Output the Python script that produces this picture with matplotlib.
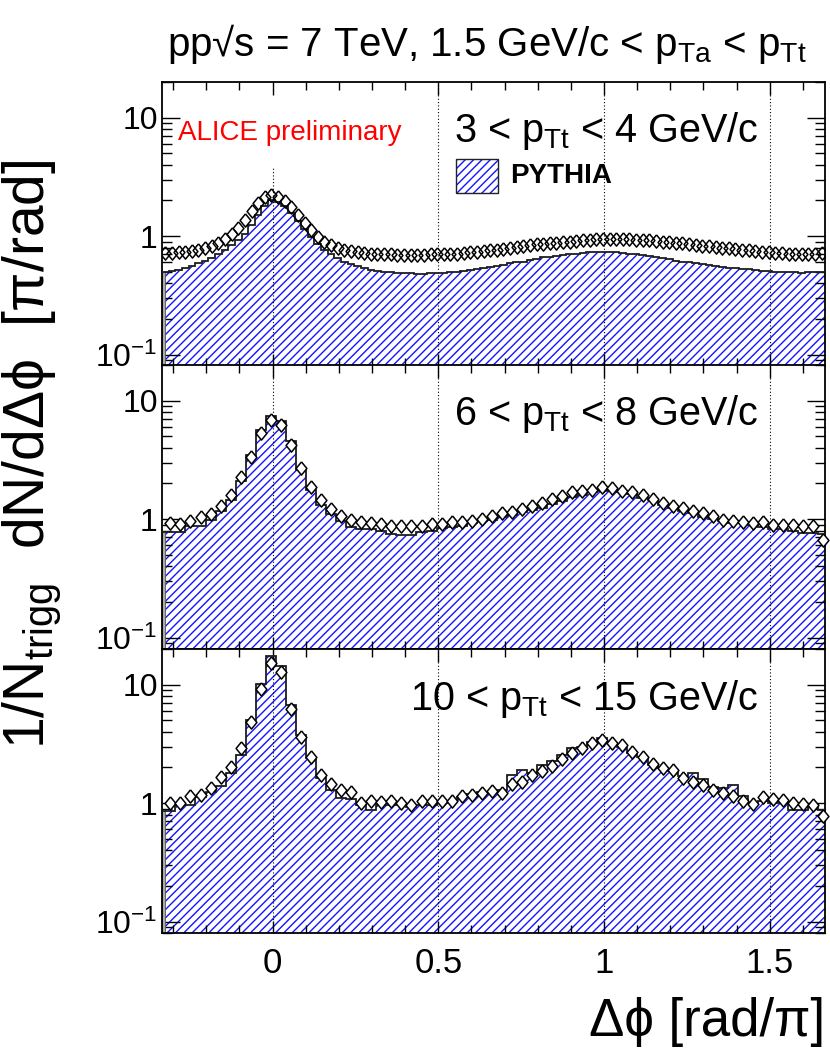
import numpy as np
import matplotlib
matplotlib.use("Agg")
import matplotlib.pyplot as plt
from matplotlib.ticker import MultipleLocator, LogLocator, FixedLocator, FixedFormatter, NullFormatter
from matplotlib.patches import Rectangle

plt.rcParams['font.family'] = ['Liberation Sans', 'DejaVu Sans']
plt.rcParams['mathtext.default'] = 'regular'
plt.rcParams['hatch.linewidth'] = 1.0

# ---- data ----
# panel 1 (3 < pTt < 4): 100 fine bins between -1/3 and 5/3
p1_data = [0.72, 0.72, 0.73, 0.74, 0.75, 0.77, 0.79, 0.83, 0.88,
           0.95, 1.05, 1.18, 1.38, 1.62, 1.90, 2.12, 2.22, 2.15, 1.98, 1.75,
           1.50, 1.28, 1.12, 0.99, 0.90, 0.84, 0.80, 0.77, 0.75, 0.73, 0.72,
           0.71, 0.70, 0.70, 0.70, 0.69, 0.69, 0.69, 0.69, 0.69, 0.70, 0.70, 0.70, 0.71, 0.71, 0.72,
           0.73, 0.74, 0.75, 0.76, 0.77, 0.78, 0.80, 0.81, 0.82, 0.84, 0.85, 0.86, 0.87, 0.88,
           0.89, 0.90, 0.91, 0.92, 0.93, 0.94,
           0.94, 0.95, 0.95, 0.94, 0.94, 0.93, 0.93, 0.92, 0.91, 0.90, 0.89, 0.88, 0.87, 0.86,
           0.84, 0.83, 0.82, 0.81, 0.80, 0.79, 0.78, 0.77, 0.76, 0.75, 0.74, 0.73, 0.72, 0.72,
           0.71, 0.71, 0.71, 0.71, 0.71, 0.72]
p1_pythia = [0.50, 0.51, 0.52, 0.54, 0.56, 0.59, 0.62, 0.65, 0.70, 0.76,
             0.84, 0.93, 1.05, 1.25, 1.50, 1.78, 2.00, 1.95, 1.80, 1.58,
             1.35, 1.15, 0.98, 0.86, 0.77, 0.70, 0.65, 0.61, 0.58, 0.56,
             0.54, 0.52, 0.51, 0.50, 0.50, 0.49, 0.49, 0.49, 0.48, 0.48,
             0.49, 0.49, 0.49, 0.50, 0.50, 0.51, 0.52, 0.53, 0.54, 0.55,
             0.56, 0.57, 0.59, 0.60, 0.61, 0.63, 0.64, 0.66, 0.67, 0.68,
             0.69, 0.70, 0.71, 0.72, 0.73, 0.73, 0.74, 0.73, 0.73, 0.72,
             0.71, 0.70, 0.69, 0.68, 0.67, 0.65, 0.64, 0.62, 0.61, 0.60,
             0.59, 0.58, 0.57, 0.56, 0.55, 0.54, 0.54, 0.53, 0.53, 0.52,
             0.51, 0.51, 0.50, 0.50, 0.50, 0.50, 0.49, 0.50, 0.50, 0.50]

# panels 2 and 3: 66 coarser bins
p2_data = [0.93, 0.91, 0.96, 1.05, 1.11, 1.30, 1.60, 2.26, 3.34, 5.33,
           6.90, 6.25, 4.24, 2.70, 1.88, 1.45, 1.21, 1.07, 0.99, 0.94,
           0.925, 0.905, 0.87, 0.87, 0.87, 0.87, 0.91, 0.91, 0.94, 0.94,
           0.97, 1.00, 1.07, 1.12, 1.14, 1.21, 1.30, 1.38, 1.47, 1.57,
           1.68, 1.71, 1.77, 1.85, 1.83, 1.71, 1.68, 1.60, 1.47, 1.38,
           1.30, 1.24, 1.16, 1.12, 1.07, 0.99, 0.955, 0.94, 0.925, 0.94,
           0.895, 0.895, 0.895, 0.866, 0.866, 0.67]
p2_pythia = [0.785, 0.785, 0.866, 0.866, 0.99, 1.18, 1.45, 2.08, 3.49, 5.68,
             7.46, 6.78, 4.52, 2.61, 1.77, 1.32, 1.11, 0.955, 0.86, 0.83,
             0.82, 0.80, 0.75, 0.74, 0.74, 0.78, 0.80, 0.84, 0.86, 0.88,
             0.93, 0.97, 0.99, 1.05, 1.08, 1.15, 1.20, 1.25, 1.35, 1.42,
             1.55, 1.60, 1.68, 1.72, 1.75, 1.68, 1.62, 1.52, 1.45, 1.32,
             1.24, 1.18, 1.12, 1.05, 1.00, 0.96, 0.93, 0.92, 0.90, 0.86,
             0.82, 0.82, 0.80, 0.77, 0.77, 0.75]
p3_data = [1.00, 1.00, 1.14, 1.18, 1.34, 1.66, 2.03, 2.90, 4.86, 9.2,
           15.2, 12.8, 6.28, 3.59, 2.44, 1.73, 1.46, 1.30, 1.23, 1.00,
           1.05, 1.02, 1.04, 1.00, 0.97, 1.05, 1.04, 1.04, 1.05, 1.14,
           1.18, 1.22, 1.26, 1.22, 1.46, 1.52, 1.73, 1.85, 2.06, 2.35,
           2.63, 2.90, 3.20, 3.41, 3.20, 3.10, 2.72, 2.47, 2.14, 1.97,
           1.91, 1.63, 1.52, 1.43, 1.28, 1.22, 1.14, 1.04, 0.99, 1.13,
           1.08, 1.07, 1.00, 0.99, 0.97, 0.775]
p3_pythia = [0.85, 0.97, 0.97, 1.12, 1.25, 1.40, 1.79, 2.55, 5.0, 10.2,
             17.3, 14.5, 6.7, 3.76, 2.39, 1.63, 1.30, 1.10, 1.08, 0.97,
             0.88, 0.97, 0.97, 0.97, 0.93, 0.97, 0.97, 1.00, 1.05, 1.12,
             1.20, 1.25, 1.22, 1.30, 1.73, 1.91, 1.79, 2.10, 2.25, 2.55,
             2.90, 3.00, 3.30, 3.52, 3.20, 3.00, 2.65, 2.47, 2.10, 1.97,
             1.85, 1.70, 1.79, 1.59, 1.38, 1.34, 1.43, 1.14, 1.00, 1.04,
             1.00, 1.00, 0.88, 0.88, 0.97, 0.88]

panel_labels = ['3 < p$_{Tt}$ < 4 GeV/c', '6 < p$_{Tt}$ < 8 GeV/c', '10 < p$_{Tt}$ < 15 GeV/c']
x_ticks = [0, 0.5, 1, 1.5]
x_ticklabels = ['0', '0.5', '1', '1.5']

# bin edges (in units of pi)
XMIN, XMAX = -1/3, 5/3
edges_fine = np.linspace(XMIN, XMAX, 101)
edges_coarse = np.r_[XMIN, -0.3232 + np.arange(1, 67) / 33.0]
edges_coarse[-1] = min(edges_coarse[-1], XMAX)

panels = [(edges_fine, p1_data, p1_pythia),
          (edges_coarse, p2_data, p2_pythia),
          (edges_coarse, p3_data, p3_pythia)]

HATCH_BLUE = '#1414ff'

fig = plt.figure(figsize=(8.3, 10.55), dpi=100)
L, W = 162 / 830, 663 / 830
boxes = [(1055 - 366) / 1055, (1055 - 649) / 1055, (1055 - 933) / 1055]
H = 284 / 1055

# diamond marker a little taller than wide
diamond = [(0, 1), (0.82, 0), (0, -1), (-0.82, 0), (0, 1)]

axes = []
for i, (edges, data, pyth) in enumerate(panels):
    ax = fig.add_axes([L, boxes[i], W, H])
    axes.append(ax)
    ax.set_yscale('log')
    ax.set_xlim(XMIN, XMAX)
    ax.set_ylim(0.08, 20)

    e = np.asarray(edges)
    centers = 0.5 * (e[:-1] + e[1:])
    if i > 0:
        centers[0] = -0.308
        centers[-1] = 1.662

    # hatched PYTHIA histogram
    ax.stairs(pyth, e, baseline=1e-3, fill=True, facecolor='none',
              edgecolor=HATCH_BLUE, hatch='////', linewidth=0, zorder=1)
    ax.stairs(pyth, e, baseline=None, color='#1e1e1e', linewidth=1.3, zorder=3)
    # grey under-flow stripe at the left edge
    ax.bar(XMIN, pyth[0], width=0.010, bottom=1e-3, align='edge',
           color='#aaaaaa', edgecolor='#555555', linewidth=0.6, zorder=2)

    # dotted guide lines
    for xv in x_ticks:
        top = 0.70 if (i == 0 and xv == 0) else 1.0
        ax.axvline(xv, ymax=top, color='black', linestyle=(0, (1, 2)), linewidth=0.8, zorder=2)

    # data points
    ax.plot(centers, data, linestyle='none', marker=diamond, markersize=9.5,
            markerfacecolor='none' if i == 0 else 'white',
            markeredgecolor='black', markeredgewidth=1.1, zorder=4, clip_on=(i == 0))

    # ticks
    ax.xaxis.set_major_locator(FixedLocator(x_ticks))
    ax.xaxis.set_major_formatter(FixedFormatter(x_ticklabels))
    ax.xaxis.set_minor_locator(MultipleLocator(0.1))
    ax.yaxis.set_major_locator(FixedLocator([0.1, 1, 10]))
    ax.yaxis.set_major_formatter(FixedFormatter(['$10^{-1}$', '1', '10']))
    ax.yaxis.set_minor_locator(LogLocator(base=10, subs=np.arange(2, 10)))
    ax.yaxis.set_minor_formatter(NullFormatter())
    ax.tick_params(which='both', direction='in', top=True, right=True, width=1.0)
    ax.tick_params(axis='y', which='major', length=13, labelsize=23, pad=3)
    ax.tick_params(axis='y', which='minor', length=7)
    ax.tick_params(axis='x', which='major', length=9, labelsize=25, pad=10)
    ax.tick_params(axis='x', which='minor', length=6)
    if i < 2:
        ax.tick_params(axis='x', labelbottom=False)
    for sp in ax.spines.values():
        sp.set_linewidth(1.3)

    ax.text(0.90, 0.79 if i < 2 else 0.785, panel_labels[i], transform=ax.transAxes,
            ha='right', va='baseline', fontsize=28.5)

# ALICE label and legend in the first panel
ax = axes[0]
ax.text(0.024, 0.796, 'ALICE preliminary', color='red', fontsize=20,
        transform=ax.transAxes, ha='left', va='baseline')
ax.add_patch(Rectangle((0.4434, 0.609), 0.0634, 0.12, transform=ax.transAxes,
                       facecolor='white', edgecolor=HATCH_BLUE, hatch='////', linewidth=0, zorder=5))
ax.add_patch(Rectangle((0.4434, 0.609), 0.0634, 0.12, transform=ax.transAxes,
                       facecolor='none', edgecolor='#222222', linewidth=1.0, zorder=6))
ax.text(0.525, 0.669, 'PYTHIA', fontsize=20, fontweight='bold',
        transform=ax.transAxes, ha='left', va='center')

# titles and axis labels
fig.text(0.587, 0.958, 'pp\u221as = 7 TeV, 1.5 GeV/c < p$_{Ta}$ < p$_{Tt}$',
         ha='center', va='center', fontsize=29)
fig.text(0.038, 0.569, '1/N$_{trigg}$  dN/d\u0394\u03d5  [\u03c0/rad]', rotation=90,
         ha='center', va='center', fontsize=41)
fig.text(0.994, 0.008, '\u0394\u03d5 [rad/\u03c0]', ha='right', va='bottom', fontsize=38)

fig.savefig('out.png', dpi=100)
